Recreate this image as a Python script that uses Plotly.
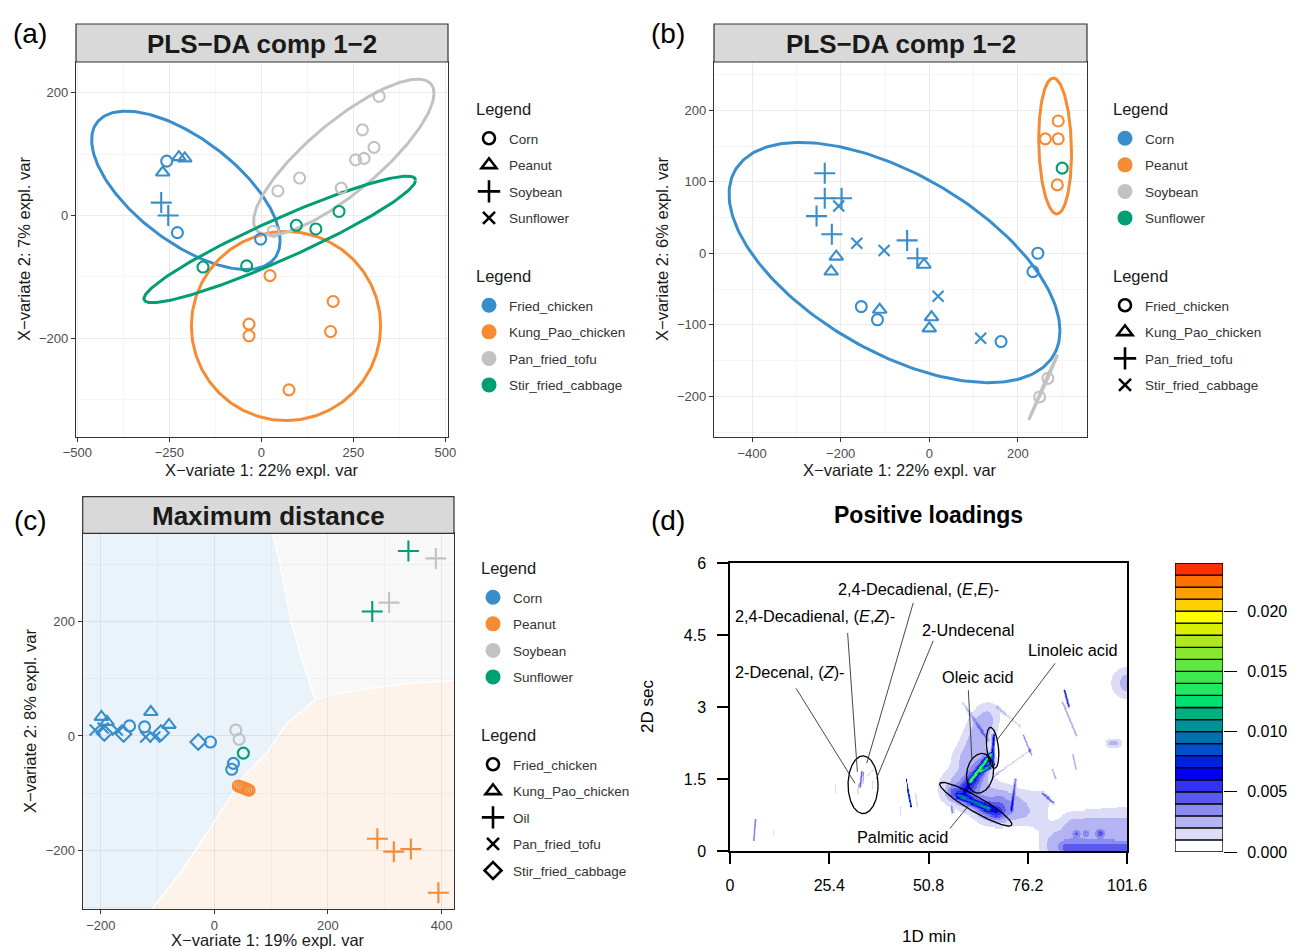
import numpy as np
import plotly.graph_objects as go

# page body has an 8 px margin; figure sized to fill the rest of the 1299x950 window
OFF = 8
FW, FH = 1299 - OFF, 950 - OFF
FONT = "Liberation Sans, Arial, Helvetica, sans-serif"
BLUE, ORANGE, GRAY, GREEN = "#388ECC", "#F68B33", "#C2C2C2", "#009E73"

food_names = ["Fried_chicken", "Kung_Pao_chicken", "Pan_fried_tofu", "Stir_fried_cabbage"]
oil_names = ["Corn", "Peanut", "Soybean", "Sunflower"]

# ---------------- panel (a): colour = dish, shape = oil ----------------
a_x = [-257, -268, -224, -208, -272, -253, -228, -2,
       320, 274.5, 306, 256, 279, 104, 45, 217, 32.5,
       -158.5, -40, 95, 148, 211,
       23.5, 195, 188, -33.5, -33.5, 75]
a_y = [88.5, 70, 95, 93, 21, 0, -28, -38.5,
       194, 139.5, 111, 90.6, 93, 61, 40, 44.5, -26,
       -84, -82, -16, -22, 6.5,
       -98, -140, -189, -177, -196, -284]
a_food = (["Fried_chicken"] * 8 + ["Pan_fried_tofu"] * 9 +
          ["Stir_fried_cabbage"] * 5 + ["Kung_Pao_chicken"] * 6)
a_oil = (["Corn", "Peanut", "Peanut", "Peanut", "Soybean", "Soybean", "Corn", "Corn"] +
         ["Corn"] * 20)
# confidence ellipses (a): centre, half-width, half-height, y-offset at x-extreme
a_ell_food = ["Fried_chicken", "Kung_Pao_chicken", "Pan_fried_tofu", "Stir_fried_cabbage"]
a_ell_cx = [-205, 67, 224, 50]
a_ell_cy = [41, -180, 95, -39]
a_ell_hx = [256, 257, 245, 369]
a_ell_hy = [129, 154, 127, 103]
a_ell_k = [-82, 0, 104, 96.5]

# ---------------- panel (b): colour = oil, shape = dish ----------------
b_x = [-236, -236, -198, -254.5, -220, -50, -27,
       -204.5, -163.6, -102, 20, 116,
       -210, -221.5, -112, -12, 5, 0,
       -153.5, -117, 245, 234, 162,
       291, 291, 262, 289,
       300,
       267.7, 249]
b_y = [112, 77, 77, 52, 26.6, 18, -7,
       66, 14, 4, -60, -119,
       -4.7, -25.6, -79, -16, -89.5, -105,
       -74.6, -93, 0, -25.6, -123.5,
       185, 160, 160, 95.6,
       119,
       -175, -201]
b_oil = ["Corn"] * 23 + ["Peanut"] * 4 + ["Sunflower"] + ["Soybean"] * 2
b_food = (["Pan_fried_tofu"] * 7 + ["Stir_fried_cabbage"] * 5 + ["Kung_Pao_chicken"] * 6 +
          ["Fried_chicken"] * 5 + ["Fried_chicken"] * 7)
b_ell_oil = ["Corn", "Peanut", "Soybean"]
b_ell_cx = [-78.5, 284, 257]
b_ell_cy = [-13, 150, -187.5]
b_ell_hx = [373.5, 37, 32.7]
b_ell_hy = [168, 95, 45.5]
b_ell_k = [-95.5, -10, 45.45]

# ---------------- panel (c): colour = oil, shape = dish / oil ----------------
c_x = [-199, -189, -112, -80,
       -149.5, -123, -7, 33.5, 30.5,
       -210, -196, -171, -121, -105,
       -194, -160, -94, -28.5,
       37.6, 43.4, 390, 307.6,
       51, 341.7, 278,
       42, 46, 50, 54, 58, 61, 287, 316, 346, 394.5]
c_y = [33.5, 24.7, 42, 19.4,
       17.6, 16, -10.6, -48, -58.4,
       10.6, 14, 10.6, -1.8, -1.8,
       5.3, 3.5, 5.3, -10.6,
       10.5, -5.8, 311, 233.6,
       -30, 324, 218,
       -87.6, -89, -90.5, -92, -93.5, -95, -180, -202.6, -198, -274.5]
c_oil = ["Corn"] * 18 + ["Soybean"] * 4 + ["Sunflower"] * 3 + ["Peanut"] * 10
c_food = (["Kung_Pao_chicken"] * 4 + ["Fried_chicken"] * 5 + ["Pan_fried_tofu"] * 5 +
          ["Stir_fried_cabbage"] * 4 +
          ["Fried_chicken"] * 2 + ["Oil"] * 2 +
          ["Fried_chicken"] + ["Oil"] * 2 +
          ["Fried_chicken"] * 6 + ["Oil"] * 4)
# prediction-area boundaries (c)
c_bnd_top_x = [95, 102.7, 112.7, 124.5, 136, 156.8, 177.3]
c_bnd_top_y = [400, 355, 314, 256, 197, 127, 63]
c_bnd_right_x = [177.3, 215.5, 274, 333, 421, 520]
c_bnd_right_y = [63, 73.6, 83.5, 91, 97, 100]
c_bnd_low_x = [177.3, 127.4, 92, 51, -1.8, -60.5, -110.4, -187]
c_bnd_low_y = [63, 22, -30, -71, -153, -240.6, -303.6, -400]

# ---------------- panel (d): loadings peaks (ridges) ----------------
pk_x1 = [61.5, 64.2, 60.5, 66.8, 58.5, 57.0,
         85.5, 85.0, 75.0, 73.0, 80.0, 82.5, 87.6, 67.3, 59.6, 68.3, 56.7,
         6.1, 11.0, 33.2, 34.0, 32.6, 35.0, 36.5, 45.1, 43.5, 27.0, 47.5,
         58.0, 62.0, 66.0, 70.0, 60.0, 84.0, 88.0, 86.0, 94.7, 91.0, 88.5, 101.6, 97.3]
pk_y1 = [1.45, 1.65, 1.30, 1.80, 1.15, 1.20,
         3.35, 3.10, 2.40, 1.48, 1.20, 1.70, 2.00, 1.54, 3.08, 3.00, 0.92,
         0.23, 0.35, 1.34, 1.40, 1.20, 1.55, 1.30, 1.48, 0.75, 1.20, 1.20,
         1.30, 1.50, 0.80, 1.00, 2.00, 0.12, 0.60, 0.05, 0.37, 0.37, 0.36, 3.50, 2.24]
pk_x2 = [66.5, 67.2, 66.0, 67.4, 66.0, 68.0,
         86.6, 88.5, 77.0, 72.0, 82.7, 83.3, 88.4, 76.8, 65.8, 74.2, 57.0,
         6.5, 11.3, 33.6, 34.2, 32.8, 37.0, 36.6, 46.4, 43.6, 27.1, 48.0,
         68.0, 65.0, 78.0, 80.0, 66.0, 101.6, 101.6, 101.6, 94.7, 91.0, 88.5, 101.6, 98.8]
pk_y2 = [2.00, 1.80, 1.90, 2.40, 0.88, 0.80,
         3.00, 2.40, 2.00, 0.85, 1.00, 1.50, 1.70, 2.10, 2.31, 2.59, 0.80,
         0.65, 0.52, 1.65, 1.62, 1.40, 1.70, 1.45, 0.92, 0.90, 1.35, 0.90,
         1.00, 2.60, 0.70, 1.10, 2.90, 0.12, 0.70, 0.05, 0.37, 0.37, 0.36, 3.50, 2.24]
pk_h = [0.010, 0.008, 0.003, 0.005, 0.005, 0.0025,
        0.006, 0.0025, 0.0035, 0.0035, 0.0035, 0.0025, 0.0025, 0.0018, 0.0018, 0.0016, 0.0025,
        0.004, 0.0015, 0.0045, 0.0035, 0.002, 0.0015, 0.0015, 0.009, 0.0015, 0.0012, 0.0015,
        0.002, 0.0015, 0.0014, 0.0012, 0.0013, 0.0028, 0.0016, 0.002, 0.0025, 0.0014, 0.0014,
        0.0025, 0.0022]
pk_w = [1.3, 1.2, 5.0, 1.2, 1.8, 5.0,
        0.8, 1.0, 0.8, 0.8, 0.8, 0.8, 0.8, 0.7, 1.0, 1.0, 1.0,
        0.7, 0.7, 0.7, 0.7, 0.7, 0.7, 0.7, 0.6, 0.7, 0.7, 0.7,
        16, 12, 9, 10, 10, 14, 10, 4, 2.5, 2, 2, 12, 4]

# label ellipses (d): centre (min, sec), half-axes (px), rotation (deg)
lab_ell_cx = [34.05, 64.0, 67.2, 62.9]
lab_ell_cy = [1.38, 1.62, 2.15, 0.975]
lab_ell_a = [15.0, 13.3, 5.9, 41.5]
lab_ell_b = [28.8, 20.0, 20.6, 7.5]
lab_ell_rot = [0, -10, 6, -30.2]

lab_text = ["2-Decenal, (<i>Z</i>)-", "2,4-Decadienal, (<i>E</i>,<i>Z</i>)-",
            "2,4-Decadienal, (<i>E</i>,<i>E</i>)-", "2-Undecenal", "Oleic acid",
            "Linoleic acid", "Palmitic acid"]
lab_tx = [0.77, 0.77, 27.1, 48.6, 53.75, 75.8, 32.0]
lab_ty = [3.735, 4.90, 5.45, 4.60, 3.63, 4.19, 0.30]
lead_x0 = [16.9, 30.1, 46.9, 52.0, 61.0, 83.2, 56.3]
lead_y0 = [3.39, 4.54, 5.17, 4.38, 3.35, 3.91, 0.47]
lead_x1 = [32.0, 32.6, 35.0, 37.5, 61.9, 68.3, 61.0]
lead_y1 = [1.41, 1.65, 1.83, 1.51, 1.91, 2.31, 0.94]

d_xticks = [0, 25.4, 50.8, 76.2, 101.6]
d_yticks = [0, 1.5, 3, 4.5, 6]

cb_lower = [0.000, 0.001, 0.002, 0.003, 0.004, 0.005, 0.006, 0.007, 0.008, 0.009, 0.010, 0.011,
            0.012, 0.013, 0.014, 0.015, 0.016, 0.017, 0.018, 0.019, 0.020, 0.021, 0.022, 0.023]
cb_colors = ["#ffffff", "#dcdcf8", "#b4b4f4", "#8c8cf0", "#5a5aee", "#3232f0",
             "#0000f0", "#0020e0", "#0050cc", "#0070b0", "#009098", "#00b080",
             "#00e070", "#20e860", "#40e850", "#60e840", "#88e830", "#b0e820",
             "#d8f000", "#ffff00", "#ffd000", "#ffa000", "#ff7000", "#ff3000"]
cb_ticks = [0.000, 0.005, 0.010, 0.015, 0.020]

# ---------------- styling maps ----------------
food_col = {"Fried_chicken": BLUE, "Kung_Pao_chicken": ORANGE,
            "Pan_fried_tofu": GRAY, "Stir_fried_cabbage": GREEN}
oil_col = {"Corn": BLUE, "Peanut": ORANGE, "Soybean": GRAY, "Sunflower": GREEN}
sym_size = {"circle-open": 11, "triangle-up-open": 12, "cross-thin-open": 15,
            "x-thin-open": 11, "diamond-open": 12}
sym_a = {"Corn": "circle-open", "Peanut": "triangle-up-open",
         "Soybean": "cross-thin-open", "Sunflower": "x-thin-open"}
sym_b = {"Fried_chicken": "circle-open", "Kung_Pao_chicken": "triangle-up-open",
         "Pan_fried_tofu": "cross-thin-open", "Stir_fried_cabbage": "x-thin-open"}
sym_c = {"Fried_chicken": "circle-open", "Kung_Pao_chicken": "triangle-up-open",
         "Oil": "cross-thin-open", "Pan_fried_tofu": "x-thin-open",
         "Stir_fried_cabbage": "diamond-open"}
MW = 2.1


def ellipse_xy(cx, cy, hx, hy, k, n=240):
    t = np.linspace(0, 2 * np.pi, n)
    d = np.sqrt(max(hy * hy - k * k, 1.0))
    return cx + hx * np.cos(t), cy + k * np.cos(t) + d * np.sin(t)


fig = go.Figure()

# ---- panel (a)
for f, cx, cy, hx, hy, k in zip(a_ell_food, a_ell_cx, a_ell_cy, a_ell_hx, a_ell_hy, a_ell_k):
    ex, ey = ellipse_xy(cx, cy, hx, hy, k)
    fig.add_trace(go.Scatter(x=ex, y=ey, mode="lines", line=dict(color=food_col[f], width=3),
                             showlegend=False, hoverinfo="skip", xaxis="x", yaxis="y"))
syms = [sym_a[o] for o in a_oil]
fig.add_trace(go.Scatter(x=a_x, y=a_y, mode="markers", showlegend=False, xaxis="x", yaxis="y",
                         marker=dict(color=[food_col[f] for f in a_food], symbol=syms, opacity=1,
                                     size=[sym_size[s] for s in syms], line=dict(width=MW))))

# ---- panel (b)
for o, cx, cy, hx, hy, k in zip(b_ell_oil, b_ell_cx, b_ell_cy, b_ell_hx, b_ell_hy, b_ell_k):
    ex, ey = ellipse_xy(cx, cy, hx, hy, k)
    fig.add_trace(go.Scatter(x=ex, y=ey, mode="lines", line=dict(color=oil_col[o], width=3),
                             showlegend=False, hoverinfo="skip", xaxis="x2", yaxis="y2"))
syms = [sym_b[f] for f in b_food]
fig.add_trace(go.Scatter(x=b_x, y=b_y, mode="markers", showlegend=False, xaxis="x2", yaxis="y2",
                         marker=dict(color=[oil_col[o] for o in b_oil], symbol=syms, opacity=1,
                                     size=[sym_size[s] for s in syms], line=dict(width=MW))))

# ---- panel (c) background areas
blue_px = [-400] + c_bnd_top_x + c_bnd_low_x[1:] + [-400]
blue_py = [400] + c_bnd_top_y + c_bnd_low_y[1:] + [-400]
gray_px = c_bnd_top_x + c_bnd_right_x[1:] + [520]
gray_py = c_bnd_top_y + c_bnd_right_y[1:] + [400]
org_px = c_bnd_low_x + [520] + c_bnd_right_x[::-1][:-1]
org_py = c_bnd_low_y + [-400] + c_bnd_right_y[::-1][:-1]
for px_, py_, col in [(blue_px, blue_py, "rgba(56,142,204,0.10)"),
                      (gray_px, gray_py, "rgba(194,194,194,0.12)"),
                      (org_px, org_py, "rgba(246,139,51,0.10)")]:
    fig.add_trace(go.Scatter(x=px_, y=py_, mode="lines", fill="toself", fillcolor=col,
                             line=dict(color="white", width=1.2), showlegend=False,
                             hoverinfo="skip", xaxis="x3", yaxis="y3"))
syms = [sym_c[f] for f in c_food]
fig.add_trace(go.Scatter(x=c_x, y=c_y, mode="markers", showlegend=False, xaxis="x3", yaxis="y3",
                         marker=dict(color=[oil_col[o] for o in c_oil], symbol=syms, opacity=1,
                                     size=[sym_size[s] for s in syms], line=dict(width=MW))))

# ---- panel (d) loadings surface
sx, sy = 397 / 101.6, 288 / 6.0   # px per min, px per sec (display aspect)
rt1 = np.arange(0, 101.6 + 1e-9, 0.25)
rt2 = np.arange(0, 6.0 + 1e-9, 0.025)
X, Y = np.meshgrid(rt1 * sx, rt2 * sy)
Z = np.zeros_like(X)
for x1, y1, x2, y2, h, w in zip(pk_x1, pk_y1, pk_x2, pk_y2, pk_h, pk_w):
    ax_, ay_, bx_, by_ = x1 * sx, y1 * sy, x2 * sx, y2 * sy
    dx, dy = bx_ - ax_, by_ - ay_
    L2 = dx * dx + dy * dy
    t = np.zeros_like(X) if L2 == 0 else np.clip(((X - ax_) * dx + (Y - ay_) * dy) / L2, 0, 1)
    d2 = (X - ax_ - t * dx) ** 2 + (Y - ay_ - t * dy) ** 2
    Z += h * np.exp(-d2 / (2 * w * w))
Z = Z.astype(np.float32)

n = len(cb_colors)
cscale = []
for i, c in enumerate(cb_colors):
    cscale.append([i / n, c])
    cscale.append([(i + 1) / n, c])
fig.add_trace(go.Heatmap(x=rt1, y=rt2, z=Z, colorscale=cscale, zmin=0, zmax=0.024,
                         zsmooth=False, showscale=False, hoverinfo="skip",
                         xaxis="x4", yaxis="y4"))
for cx, cy, a, b, r in zip(lab_ell_cx, lab_ell_cy, lab_ell_a, lab_ell_b, lab_ell_rot):
    t = np.linspace(0, 2 * np.pi, 200)
    th = np.deg2rad(r)
    ex = cx + (a * np.cos(t) * np.cos(th) - b * np.sin(t) * np.sin(th)) / sx
    ey = cy + (a * np.cos(t) * np.sin(th) + b * np.sin(t) * np.cos(th)) / sy
    fig.add_trace(go.Scatter(x=ex, y=ey, mode="lines", line=dict(color="black", width=1.3),
                             showlegend=False, hoverinfo="skip", xaxis="x4", yaxis="y4"))
for x0, y0, x1, y1 in zip(lead_x0, lead_y0, lead_x1, lead_y1):
    fig.add_trace(go.Scatter(x=[x0, x1], y=[y0, y1], mode="lines",
                             line=dict(color="#333333", width=0.9),
                             showlegend=False, hoverinfo="skip", xaxis="x4", yaxis="y4"))

# ---- colour key
fig.add_trace(go.Bar(x=[0] * n, y=[0.001] * n, base=cb_lower, width=1,
                     marker=dict(color=cb_colors, line=dict(color="black", width=1.3)),
                     showlegend=False, hoverinfo="skip", xaxis="x5", yaxis="y5"))


# ---- legends (dummy entries)
def leg_entry(name, legend, marker, group):
    fig.add_trace(go.Scatter(x=[None], y=[None], mode="markers", name=name, legend=legend,
                             legendgroup=group, marker=marker, showlegend=True,
                             xaxis="x", yaxis="y"))


for o in oil_names:
    s = sym_a[o]
    leg_entry(o, "legend", dict(symbol=s, color="black", size=sym_size[s] + 1, line=dict(width=2.6)), "a1" + o)
for f in food_names:
    leg_entry(f, "legend2", dict(symbol="circle", color=food_col[f], size=15), "a2" + f)
for o in oil_names:
    leg_entry(o, "legend3", dict(symbol="circle", color=oil_col[o], size=15), "b1" + o)
for f in food_names:
    s = sym_b[f]
    leg_entry(f, "legend4", dict(symbol=s, color="black", size=sym_size[s] + 1, line=dict(width=2.6)), "b2" + f)
for o in oil_names:
    leg_entry(o, "legend5", dict(symbol="circle", color=oil_col[o], size=15), "c1" + o)
for f in ["Fried_chicken", "Kung_Pao_chicken", "Oil", "Pan_fried_tofu", "Stir_fried_cabbage"]:
    s = sym_c[f]
    leg_entry(f, "legend6", dict(symbol=s, color="black", size=sym_size[s] + 1, line=dict(width=2.6)), "c2" + f)


def px2x(p):
    return (p - OFF) / FW


def px2y(p):
    return 1 - (p - OFF) / FH


def leg(xpx, ypx):
    return dict(x=px2x(xpx), y=px2y(ypx), xanchor="left", yanchor="top",
                bgcolor="rgba(0,0,0,0)", borderwidth=0,
                font=dict(family=FONT, size=13.5, color="#333333"),
                traceorder="grouped", tracegroupgap=6, itemsizing="trace")


def gg_axis(domain, rng, dtick, mdtick, anchor):
    return dict(domain=domain, range=rng, dtick=dtick, tick0=0, showgrid=True,
                gridcolor="#ebebeb", gridwidth=1.2,
                minor=dict(dtick=mdtick, tick0=0, showgrid=True, gridcolor="#f5f5f5",
                           gridwidth=0.7, ticks=""),
                showline=True, mirror=True, linecolor="#333333", linewidth=1.2,
                ticks="outside", ticklen=4, tickcolor="#333333", tickwidth=1,
                tickfont=dict(family=FONT, size=13, color="#4d4d4d"),
                zeroline=False, anchor=anchor, automargin=False)


def d_axis(domain, rng, ticks, anchor):
    return dict(domain=domain, range=rng, tickvals=ticks, ticktext=[f"{v:g}" for v in ticks],
                showgrid=False, zeroline=False, showline=True, mirror=True,
                linecolor="black", linewidth=1.5, ticks="outside", ticklen=11,
                tickcolor="black", tickwidth=1.5, ticklabelstandoff=8,
                tickfont=dict(family=FONT, size=16, color="black"), anchor=anchor,
                automargin=False)


layout = dict(
    width=FW, height=FH, margin=dict(l=0, r=0, t=0, b=0, autoexpand=False),
    paper_bgcolor="white", plot_bgcolor="white", font=dict(family=FONT),
    barmode="overlay", showlegend=True,
    xaxis=gg_axis([px2x(76), px2x(448)], [-503.5, 507], 250, 125, "y"),
    yaxis=gg_axis([px2y(436.5), px2y(62)], [-360, 250], 200, 100, "x"),
    xaxis2=gg_axis([px2x(714), px2x(1087)], [-486, 356], 200, 100, "y2"),
    yaxis2=gg_axis([px2y(437), px2y(62)], [-257, 267.5], 100, 50, "x2"),
    xaxis3=gg_axis([px2x(82.7), px2x(454)], [-232, 422], 200, 100, "y3"),
    yaxis3=gg_axis([px2y(909.3), px2y(533.3)], [-303.6, 355], 200, 100, "x3"),
    xaxis4=d_axis([px2x(730), px2x(1127)], [0, 101.6], d_xticks, "y4"),
    yaxis4=d_axis([px2y(851), px2y(563)], [0, 6], d_yticks, "x4"),
    xaxis5=dict(domain=[px2x(1175), px2x(1223)], range=[-0.5, 0.5], visible=False,
                anchor="y5", fixedrange=True),
    yaxis5=dict(domain=[px2y(852), px2y(563)], range=[0, 0.024], side="right",
                tickvals=cb_ticks, ticktext=[f"{v:.3f}" for v in cb_ticks],
                ticks="outside", ticklen=13, tickcolor="black", tickwidth=1.3,
                ticklabelstandoff=7,
                showgrid=False, zeroline=False, showline=False, anchor="x5",
                automargin=False, tickfont=dict(family=FONT, size=16, color="black")),
    legend=leg(469, 123), legend2=leg(469, 290),
    legend3=leg(1105, 123), legend4=leg(1105, 290),
    legend5=leg(473, 582), legend6=leg(473, 749),
)
fig.update_layout(**layout)

# strips
shapes = []
annos = []
for (x0, x1, y0, y1, txt) in [(76, 448, 24, 62, "PLS−DA comp 1−2"),
                              (714, 1087, 24, 62, "PLS−DA comp 1−2"),
                              (82.7, 454, 496.7, 533.3, "Maximum distance")]:
    shapes.append(dict(type="rect", xref="paper", yref="paper", x0=px2x(x0), x1=px2x(x1),
                       y0=px2y(y1), y1=px2y(y0), fillcolor="#d9d9d9",
                       line=dict(color="#333333", width=1.2)))
    annos.append(dict(xref="paper", yref="paper", x=px2x((x0 + x1) / 2), y=px2y((y0 + y1) / 2 + 1),
                      text=f"<b>{txt}</b>", showarrow=False, xanchor="center", yanchor="middle",
                      font=dict(family=FONT, size=26, color="#1a1a1a")))


def add_text(xp, yp, txt, size, angle=0, bold=False, color="#1a1a1a", xanchor="center"):
    annos.append(dict(xref="paper", yref="paper", x=px2x(xp), y=px2y(yp),
                      text=f"<b>{txt}</b>" if bold else txt, showarrow=False, textangle=angle,
                      xanchor=xanchor, yanchor="middle",
                      font=dict(family=FONT, size=size, color=color)))


add_text(262, 470, "X−variate 1: 22% expl. var", 16.5)
add_text(24, 249, "X−variate 2: 7% expl. var", 16.5, angle=-90)
add_text(900, 470, "X−variate 1: 22% expl. var", 16.5)
add_text(662, 249, "X−variate 2: 6% expl. var", 16.5, angle=-90)
add_text(268, 940, "X−variate 1: 19% expl. var", 16.5)
add_text(30, 721, "X−variate 2: 8% expl. var", 16.5, angle=-90)
add_text(929, 936, "1D min", 17, color="black")
add_text(647, 707, "2D sec", 17, angle=-90, color="black")
add_text(929, 515, "Positive loadings", 23, bold=True, color="black")
for lbl, xp, yp in [("(a)", 30, 34), ("(b)", 668, 34), ("(c)", 30, 520), ("(d)", 668, 520)]:
    add_text(xp, yp, lbl, 28, color="black")
for xp, yp in [(474, 109), (474, 276), (1111, 109), (1111, 276), (479, 568), (479, 735)]:
    add_text(xp, yp, "Legend", 16.5, xanchor="left")

for t, x, y in zip(lab_text, lab_tx, lab_ty):
    annos.append(dict(xref="x4", yref="y4", x=x, y=y, text=t, showarrow=False,
                      xanchor="left", yanchor="middle",
                      font=dict(family=FONT, size=16.3, color="black")))

fig.update_layout(shapes=shapes, annotations=annos)
fig.write_html("out.html")
